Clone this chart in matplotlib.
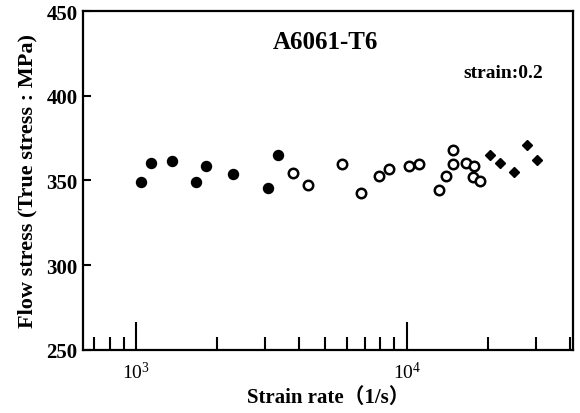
import matplotlib
matplotlib.use("Agg")
import matplotlib.pyplot as plt
from matplotlib.ticker import LogLocator, FixedLocator, NullFormatter

plt.rcParams['font.family'] = ['Liberation Serif', 'Noto Sans CJK JP']
plt.rcParams['mathtext.fontset'] = 'custom'
plt.rcParams['mathtext.rm'] = 'Liberation Serif:bold'

# strain rate (1/s) and flow stress (MPa)
rate_filled = [1046, 1139, 1358, 1666, 1809, 2288, 3065, 3338]
stress_filled = [349.2, 360.6, 361.6, 349.4, 358.7, 353.7, 345.3, 364.9]

rate_open = [3793, 4319, 5753, 6763, 7901, 8603, 10223, 11101, 13195, 13971,
             14788, 14864, 16517, 17731, 17625, 18658]
stress_open = [354.7, 347.5, 359.9, 342.5, 352.5, 356.9, 358.4, 360.0, 344.5, 352.8,
               368.1, 359.6, 360.2, 358.3, 351.9, 349.8]

rate_diamond = [20314, 22115, 24855, 27823, 30370]
stress_diamond = [365.3, 360.2, 355.1, 371.2, 362.0]

yticks = [250, 300, 350, 400, 450]

fig = plt.figure(figsize=(5.8, 4.14), dpi=100)
ax = fig.add_axes([0.1431, 0.1522, 0.8448, 0.8188])

ax.plot(rate_filled, stress_filled, "o", color="black", markersize=7.2, linestyle="none")
ax.plot(rate_open, stress_open, "o", markerfacecolor="white", markeredgecolor="black",
        markeredgewidth=1.8, markersize=6.8, linestyle="none")
ax.plot(rate_diamond, stress_diamond, "D", color="black", markersize=5.5, linestyle="none")

ax.set_xscale("log")
ax.set_xlim(637, 41150)
ax.set_ylim(250, 450)

ax.xaxis.set_major_locator(LogLocator(base=10, numticks=10))
ax.xaxis.set_minor_locator(LogLocator(base=10, subs=range(2, 10), numticks=20))
ax.xaxis.set_minor_formatter(NullFormatter())
ax.yaxis.set_major_locator(FixedLocator(yticks))

ax.tick_params(axis="x", which="major", direction="in", length=20, width=1.5,
               labelsize=14, pad=8)
ax.tick_params(axis="x", which="minor", direction="in", length=9.5, width=1.5)
ax.tick_params(axis="y", which="major", direction="in", length=6, width=1.5,
               labelsize=15, pad=4)
for lab in ax.get_yticklabels():
    lab.set_fontweight("bold")

for sp in ax.spines.values():
    sp.set_linewidth(1.6)

ax.text(5030, 432, "A6061-T6", fontsize=18, fontweight="bold", ha="center", va="center")
ax.text(22700, 413.6, "strain:0.2", fontsize=14, fontweight="bold", ha="center", va="center")

ax.set_xlabel("Strain rate（1/s）", fontsize=15, fontweight="bold", labelpad=3)
ax.set_ylabel("Flow stress (True stress : MPa)", fontsize=16, fontweight="bold", labelpad=6)

fig.savefig("out.png", dpi=100)
